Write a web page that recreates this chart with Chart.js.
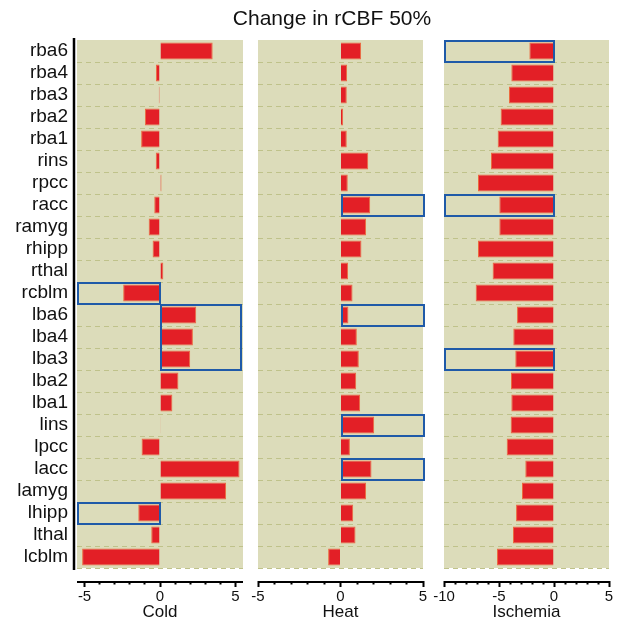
<!DOCTYPE html>
<html>
<head>
<meta charset="utf-8">
<script src="https://cdn.jsdelivr.net/npm/chart.js@4/dist/chart.umd.min.js"></script>
<style>
html,body{margin:0;padding:0;background:#fff;}
#wrap{position:relative;width:619px;height:626px;overflow:hidden;background:#fff;}
canvas{position:absolute;left:0;top:0;}
#title{position:absolute;left:0;top:6px;width:664px;text-align:center;font:21px "Liberation Sans",Arial,sans-serif;color:#111;white-space:nowrap;}
</style>
</head>
<body>
<div id="wrap">
<canvas id="c1" width="619" height="626"></canvas>
<canvas id="c2" width="619" height="626"></canvas>
<canvas id="c3" width="619" height="626"></canvas>
<div id="title">Change in rCBF 50%</div>
</div>
<script>
const regions = ['rba6','rba4','rba3','rba2','rba1','rins','rpcc','racc','ramyg','rhipp','rthal','rcblm',
                 'lba6','lba4','lba3','lba2','lba1','lins','lpcc','lacc','lamyg','lhipp','lthal','lcblm'];
const cold     = [3.49,-0.27,-0.08,-1.0,-1.25,-0.28,0.1,-0.38,-0.75,-0.49,0.22,-2.44,
                  2.4,2.18,2.0,1.22,0.82,0.05,-1.22,5.27,4.38,-1.44,-0.58,-5.16];
const heat     = [1.25,0.4,0.38,0.16,0.38,1.68,0.44,1.8,1.55,1.27,0.46,0.73,
                  0.48,0.99,1.11,0.95,1.19,2.04,0.57,1.88,1.55,0.77,0.91,-0.75];
const ischemia = [-2.24,-3.88,-4.09,-4.85,-5.12,-5.73,-6.91,-4.97,-4.97,-6.91,-5.58,-7.12,
                  -3.36,-3.7,-3.52,-3.91,-3.88,-3.94,-4.3,-2.61,-2.91,-3.45,-3.73,-5.18];
const coldTicks     = [-5,-4,-3,-2,-1,0,1,2,3,4,5];
const heatTicks     = [-5,-4,-3,-2,-1,0,1,2,3,4,5];
const ischemiaTicks = [-10,-9,-8,-7,-6,-5,-4,-3,-2,-1,0,1,2,3,4,5];
const coldBoxes     = [['rcblm','rcblm',-5.5,0],['lba6','lba3',0,5.4],['lhipp','lhipp',-5.5,0]];
const heatBoxes     = [['racc','racc',0,5],['lba6','lba6',0,5],['lins','lins',0,5],['lacc','lacc',0,5]];
const ischemiaBoxes = [['rba6','rba6',-10,0],['racc','racc',-10,0],['lba3','lba3',-10,0]];
</script>
<script>
const FONT = '"Liberation Sans", Arial, sans-serif';
const BG = '#dcdcba';
const GRID = '#bfc28a';
const BAR = '#e31f26';
const BAR_EDGE = '#ec6a3e';
const BOX = '#1f5aa8';
const W = 619;

function makePanel(id, values, ticksArr, boxes, axisTitle, min, max, left, right, showY) {
  const n = regions.length;
  const deco = {
    id: 'deco_' + id,
    beforeDraw(chart) {
      const a = chart.chartArea, c = chart.ctx;
      c.save(); c.fillStyle = BG; c.fillRect(a.left, a.top, a.right - a.left, a.bottom - a.top); c.restore();
    },
    afterDatasetsDraw(chart) {
      const c = chart.ctx, xs = chart.scales.x, ys = chart.scales.y;
      const rowH = ys.getPixelForValue(1) - ys.getPixelForValue(0);
      c.save();
      c.strokeStyle = BOX; c.lineWidth = 2;
      boxes.forEach(b => {
        const i0 = regions.indexOf(b[0]), i1 = regions.indexOf(b[1]);
        const y0 = ys.getPixelForValue(i0) - rowH / 2;
        const y1 = ys.getPixelForValue(i1) + rowH / 2;
        const x0 = xs.getPixelForValue(b[2]), x1 = xs.getPixelForValue(b[3]);
        c.strokeRect(Math.round(x0) + 1, Math.round(y0) + 1, Math.round(x1 - x0) - 1, Math.round(y1 - y0) - 1);
      });
      c.restore();
    },
    afterDraw(chart) {
      const c = chart.ctx, a = chart.chartArea;
      c.save();
      c.strokeStyle = '#000'; c.lineWidth = 2;
      c.beginPath();
      c.moveTo(a.left, a.bottom + 14); c.lineTo(a.right, a.bottom + 14);
      c.stroke();
      if (showY) {
        c.lineWidth = 2.5;
        c.beginPath();
        c.moveTo(a.left - 3, a.top - 2); c.lineTo(a.left - 3, a.bottom + 2);
        c.stroke();
      }
      c.restore();
    }
  };
  return new Chart(document.getElementById(id), {
    type: 'bar',
    data: {
      labels: regions,
      datasets: [{
        data: values,
        backgroundColor: BAR,
        borderColor: BAR_EDGE,
        borderWidth: 1,
        barPercentage: 0.78,
        categoryPercentage: 1
      }]
    },
    options: {
      indexAxis: 'y',
      responsive: false,
      animation: false,
      events: [],
      layout: { padding: { left: showY ? 0 : left, right: W - right, top: 40, bottom: 0 } },
      plugins: { legend: { display: false }, tooltip: { enabled: false }, title: { display: false } },
      scales: {
        y: {
          type: 'category',
          offset: true,
          afterFit: s => { s.width = showY ? left : 0; },
          border: { display: false, dash: [5, 4] },
          grid: {
            offset: true, drawTicks: false, lineWidth: 1,
            color: ctx => (ctx.index === 0 || ctx.index >= n) ? 'rgba(0,0,0,0)' : GRID
          },
          ticks: { display: showY, autoSkip: false, padding: 9, color: '#111', font: { family: FONT, size: 19 } }
        },
        x: {
          type: 'linear',
          min: min, max: max,
          bounds: 'data',
          afterBuildTicks: s => { s.ticks = ticksArr.map(v => ({ value: v })); },
          afterFit: s => { s.height = 58; },
          border: { display: false },
          grid: {
            drawOnChartArea: false, drawTicks: true, tickLength: 19, tickWidth: 2, tickColor: '#000',
            tickBorderDash: ctx => (ctx.tick && ctx.tick.value % 5 === 0) ? [0, 13, 6, 100] : [0, 13, 3.5, 100]
          },
          ticks: {
            autoSkip: false, maxRotation: 0, minRotation: 0, padding: 1, color: '#111',
            font: { family: FONT, size: 15 },
            callback: v => (v % 5 === 0) ? String(v) : ''
          },
          title: { display: true, text: axisTitle, color: '#111', font: { family: FONT, size: 17 }, padding: { top: 0, bottom: 3 } }
        }
      }
    },
    plugins: [deco]
  });
}
</script>
<script>
makePanel('c1', cold, coldTicks, coldBoxes, 'Cold', -5.5, 5.5, 77, 243, true);
makePanel('c2', heat, heatTicks, heatBoxes, 'Heat', -5, 5, 258, 423, false);
makePanel('c3', ischemia, ischemiaTicks, ischemiaBoxes, 'Ischemia', -10, 5, 444, 609, false);
</script>
</body>
</html>
